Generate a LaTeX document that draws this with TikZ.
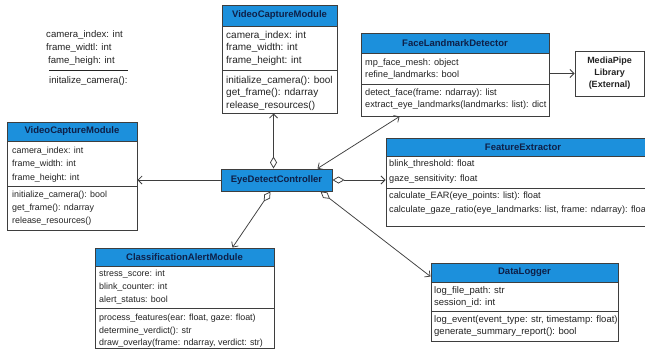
\documentclass[tikz,border=0pt]{standalone}
\usepackage{fontspec}
\setmainfont{Liberation Sans}
\usetikzlibrary{arrows.meta,calc,fit}
\definecolor{hdrblue}{RGB}{28,144,220}
\definecolor{navy}{RGB}{14,32,72}
\definecolor{edgegray}{RGB}{62,62,62}
\definecolor{txtgray}{RGB}{35,35,35}
\tikzset{
  x=1pt, y=-1pt,
  member/.style={anchor=north west, inner sep=0pt, align=left, text=txtgray},
  ctitle/.style={inner sep=0pt, text=navy, font=\fontsize{9.5}{11}\selectfont\bfseries},
  sepline/.style={draw=edgegray, line width=0.8pt},
  frame/.style={draw=edgegray, line width=1pt, inner sep=0pt},
  conn/.style={draw=edgegray, line width=0.75pt},
  ob/.tip={Straight Barb[length=4pt,width=8pt,line width=0.75pt]},
  od/.tip={Diamond[length=12pt,width=7pt,fill=white,line width=0.75pt]},
}
% #1 name #2 L #3 T #4 R #5 header bottom #6 divider #7 bottom #8 title
\newcommand\umlbox[8]{%
  \fill[white] (#2,#3) rectangle (#4,#7);
  \fill[hdrblue] (#2,#3) rectangle (#4,#5);
  \draw[sepline] (#2,#5) -- (#4,#5);
  \draw[sepline] (#2,#6) -- (#4,#6);
  \node[ctitle] at ({(#2+#4)/2},{(#3+#5)/2}) {#8};
  \coordinate (#1-nw) at (#2,#3);
  \coordinate (#1-se) at (#4,#7);
  \node[frame, fit=(#1-nw)(#1-se)] (#1) {};
}
\begin{document}
\begin{tikzpicture}
\useasboundingbox[fill=white] (0,0) rectangle (645,351);

% loose sketch text, top left
\node[member, font=\fontsize{9.6}{13}\selectfont] (loose1) at (46,30.5) {camera\_index: int\\frame\_widtl: int\\\hspace{2pt}fame\_heigh: int};
\draw[draw=txtgray, line width=0.8pt] (49,70) -- (128,70);
\node[member, font=\fontsize{9.6}{13}\selectfont] (loose2) at (49,76.5) {initalize\_camera():};

% top VideoCaptureModule
\umlbox{vcmtop}{222}{5}{337}{26}{70}{113}{VideoCaptureModule}
\node[member, font=\fontsize{10}{12.2}\selectfont] (vcmtopa) at (226,31.3) {camera\_index: int\\frame\_width: int\\frame\_height: int};
\node[member, font=\fontsize{10}{12.2}\selectfont] (vcmtopm) at (226,76.3) {initialize\_camera(): bool\\get\_frame(): ndarray\\release\_resources()};

% FaceLandmarkDetector
\umlbox{fld}{361}{33}{549}{53}{84}{116}{FaceLandmarkDetector}
\node[member, font=\fontsize{9.2}{12.3}\selectfont] (flda) at (365,58.7) {mp\_face\_mesh: object\\refine\_landmarks: bool};
\node[member, font=\fontsize{9.2}{12.3}\selectfont] (fldm) at (365,88.7) {detect\_face(frame: ndarray): list\\extract\_eye\_landmarks(landmarks: list): dict};

% MediaPipe
\node[frame, fill=white, minimum width=69pt, minimum height=45pt, align=center,
      font=\fontsize{9}{12}\selectfont\bfseries, text=txtgray] (mp) at (609.5,73.5)
      {MediaPipe\\Library\\(External)};

% left VideoCaptureModule
\umlbox{vcmleft}{7}{122}{137}{141}{186}{230}{VideoCaptureModule}
\node[member, font=\fontsize{8.9}{13.5}\selectfont] (vcmlefta) at (12,146.8) {camera\_index: int\\frame\_width: int\\frame\_height: int};
\node[member, font=\fontsize{8.9}{13}\selectfont] (vcmleftm) at (12,190.8) {initialize\_camera(): bool\\get\_frame(): ndarray\\release\_resources()};

% controller
\node[frame, fill=hdrblue, minimum width=111pt, minimum height=22pt,
      text=navy, font=\fontsize{9.5}{11}\selectfont\bfseries] (ctrl) at (276.5,180) {EyeDetectController};

% FeatureExtractor
\umlbox{fe}{386}{138}{660}{156}{188}{226}{FeatureExtractor}
\node[ctitle] at (515.5,147) {};
\node[member, font=\fontsize{9.2}{15}\selectfont] (fea) at (389,159.7) {blink\_threshold: float\\gaze\_sensitivity: float};
\node[member, font=\fontsize{9.2}{14}\selectfont] (fem) at (389,191.7) {calculate\_EAR(eye\_points: list): float\\calculate\_gaze\_ratio(eye\_landmarks: list, frame: ndarray): float};

% ClassificationAlertModule
\umlbox{cam}{95}{248}{274}{266}{308}{348}{ClassificationAlertModule}
\node[member, font=\fontsize{8.9}{12.8}\selectfont] (cama) at (99,269.8) {stress\_score: int\\blink\_counter: int\\alert\_status: bool};
\node[member, font=\fontsize{8.9}{12.6}\selectfont] (camm) at (99,313.8) {process\_features(ear: float, gaze: float)\\determine\_verdict(): str\\draw\_overlay(frame: ndarray, verdict: str)};

% DataLogger
\umlbox{dl}{431}{263}{618}{282}{311}{341}{DataLogger}
\node[member, font=\fontsize{9.5}{12}\selectfont] (dla) at (434,286.5) {log\_file\_path: str\\session\_id: int};
\node[member, font=\fontsize{9.5}{12}\selectfont] (dlm) at (434,315.5) {log\_event(event\_type: str, timestamp: float)\\generate\_summary\_report(): bool};

% connectors
\draw[conn, {od}-{ob}] ($(ctrl.north)+(-3,0)$) -- ($(vcmtop.south)+(-6,0)$);
\draw[conn, {ob}-{ob}] ($(ctrl.north east)+(-15,0)$) -- ($(fld.south west)+(39,0)$);
\draw[conn, -{ob}] (ctrl.west) -- (ctrl.west -| vcmleft.east);
\draw[conn, {od}-{ob}] (ctrl.east) -- (ctrl.east -| fe.west);
\draw[conn, {od}-{ob}] ($(ctrl.south)+(-6,0)$) -- ($(cam.north)+(48,0)$);
\draw[conn, {od}-{ob}] ($(ctrl.south east)+(-12,0)$) -- ($(dl.north west)+(0,14)$);
\draw[conn, -{ob}] (mp.west -| fld.east) -- (mp.west);
\end{tikzpicture}
\end{document}
